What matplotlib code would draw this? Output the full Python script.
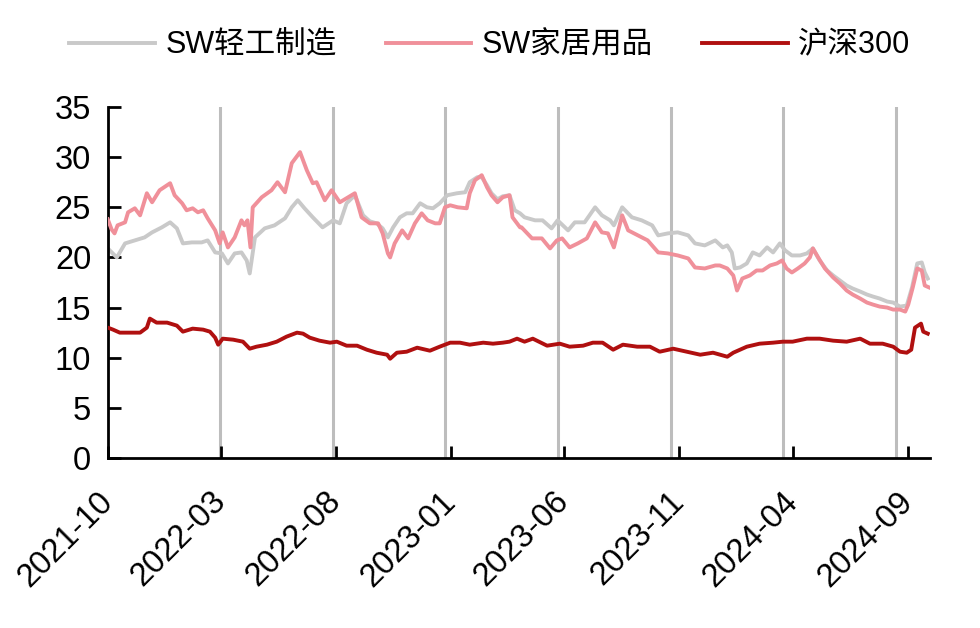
import numpy as np
import pandas as pd
import matplotlib
matplotlib.use('Agg')
import matplotlib.pyplot as plt
import matplotlib.transforms as mtransforms

# Series: day offset from 2021-10-01 and value
start = pd.Timestamp('2021-10-01')

qg_days = [0, 12, 23, 36, 49, 59, 72, 83, 92, 100, 112, 125, 133, 143, 152, 160, 169, 178,
           185, 189, 196, 209, 222, 236, 245, 253, 262, 273, 286, 300, 309, 318, 329, 340,
           349, 358, 366, 373, 380, 389, 398, 406, 416, 425, 433, 442, 452, 465, 476, 482,
           492, 498, 505, 511, 519, 526, 535, 542, 549, 555, 569, 579, 591, 599, 613, 622,
           635, 649, 658, 669, 674, 685, 698, 711, 725, 733, 746, 759, 773, 782, 795, 809,
           819, 825, 831, 835, 842, 851, 859, 868, 878, 886, 895, 902, 911, 922, 931, 939,
           948, 958, 966, 975, 984, 992, 1002, 1011, 1019, 1028, 1038, 1046, 1055, 1064,
           1071, 1078, 1084, 1088, 1092]
qg_vals = [20.9, 20.0, 21.4, 21.7, 22.0, 22.5, 23.0, 23.5, 22.9, 21.4, 21.5, 21.5, 21.7, 20.5,
           20.4, 19.4, 20.4, 20.5, 19.7, 18.4, 22.0, 22.9, 23.2, 23.9, 25.0, 25.7, 24.9, 24.0,
           23.0, 23.7, 23.4, 25.4, 26.2, 24.2, 23.6, 23.4, 22.9, 22.0, 23.0, 24.0, 24.4, 24.4,
           25.4, 25.0, 24.9, 25.4, 26.2, 26.4, 26.5, 27.5, 28.0, 28.0, 27.2, 26.4, 25.8, 26.1,
           26.2, 24.7, 24.4, 24.0, 23.7, 23.7, 22.9, 23.7, 22.7, 23.5, 23.5, 25.0, 24.2, 23.7,
           23.2, 25.0, 24.0, 23.7, 23.2, 22.2, 22.4, 22.5, 22.2, 21.4, 21.2, 21.7, 21.0, 21.2,
           20.5, 18.9, 19.0, 19.4, 20.5, 20.2, 21.0, 20.5, 21.4, 20.7, 20.2, 20.2, 20.4, 20.9,
           19.7, 18.7, 18.2, 17.7, 17.2, 16.9, 16.6, 16.3, 16.1, 15.9, 15.6, 15.5, 15.1, 15.2,
           17.0, 19.4, 19.5, 18.5, 17.9]

jj_days = [0, 5, 9, 13, 23, 27, 36, 43, 52, 59, 69, 83, 89, 99, 105, 113, 120, 127, 133, 143,
           149, 153, 160, 169, 178, 182, 186, 190, 193, 205, 218, 226, 236, 245, 256, 265, 273,
           278, 289, 298, 309, 318, 329, 338, 349, 360, 366, 373, 376, 382, 392, 400, 409, 418,
           426, 436, 442, 449, 456, 466, 478, 482, 489, 498, 505, 511, 519, 526, 535, 539, 549,
           551, 565, 578, 589, 598, 605, 615, 626, 638, 649, 658, 666, 674, 685, 693, 706, 719,
           733, 746, 759, 773, 782, 795, 809, 815, 825, 833, 838, 845, 855, 864, 872, 882, 891,
           898, 904, 911, 919, 928, 935, 939, 946, 955, 966, 975, 984, 992, 1002, 1011, 1019,
           1028, 1038, 1046, 1055, 1062, 1066, 1072, 1078, 1084, 1088, 1094]
jj_vals = [23.8, 22.8, 22.4, 23.2, 23.5, 24.5, 24.9, 24.2, 26.4, 25.5, 26.7, 27.4, 26.2, 25.4,
           24.7, 24.9, 24.5, 24.7, 23.9, 22.7, 21.4, 22.5, 21.0, 22.0, 23.7, 23.2, 23.7, 21.0,
           25.0, 26.0, 26.7, 27.5, 26.5, 29.4, 30.5, 28.7, 27.4, 27.5, 25.7, 26.7, 25.5, 25.9,
           26.4, 24.0, 23.4, 23.4, 22.4, 20.4, 20.0, 21.4, 22.7, 21.9, 23.4, 24.4, 23.7, 23.4,
           23.4, 25.0, 25.2, 25.0, 24.9, 26.4, 27.7, 28.2, 27.0, 26.2, 25.5, 26.0, 26.2, 24.0,
           23.0, 23.0, 21.9, 21.9, 20.9, 21.7, 21.9, 21.0, 21.4, 21.9, 23.5, 22.5, 22.4, 21.0,
           24.2, 22.7, 22.2, 21.7, 20.5, 20.4, 20.2, 19.9, 19.0, 18.9, 19.2, 19.2, 18.9, 18.2,
           16.7, 17.9, 18.2, 18.7, 18.7, 19.2, 19.4, 19.7, 18.9, 18.5, 18.9, 19.4, 20.0, 20.9,
           20.0, 18.9, 18.0, 17.4, 16.7, 16.3, 15.9, 15.5, 15.3, 15.1, 15.0, 14.8, 14.8, 14.6,
           15.3, 17.0, 18.9, 18.7, 17.2, 17.0]

hs_days = [0, 7, 16, 29, 43, 52, 56, 65, 79, 92, 100, 113, 127, 136, 143, 147, 153, 167, 180,
           189, 198, 212, 225, 238, 252, 260, 269, 282, 296, 305, 318, 332, 345, 358, 372, 376,
           385, 398, 412, 429, 442, 456, 469, 482, 500, 513, 526, 535, 545, 555, 566, 585, 602,
           615, 633, 646, 659, 673, 686, 705, 722, 735, 753, 771, 789, 806, 825, 833, 851, 868,
           886, 899, 912, 931, 948, 966, 984, 1002, 1015, 1032, 1046, 1055, 1064, 1070, 1075,
           1083, 1086, 1092]
hs_vals = [13.0, 12.8, 12.5, 12.5, 12.5, 13.0, 13.9, 13.5, 13.5, 13.2, 12.6, 12.9, 12.8, 12.6,
           12.0, 11.3, 11.9, 11.8, 11.6, 10.9, 11.1, 11.3, 11.6, 12.1, 12.5, 12.4, 12.0, 11.7,
           11.5, 11.6, 11.2, 11.2, 10.8, 10.5, 10.3, 9.9, 10.5, 10.6, 11.0, 10.7, 11.1, 11.5,
           11.5, 11.3, 11.5, 11.4, 11.5, 11.6, 11.9, 11.6, 11.9, 11.2, 11.4, 11.1, 11.2, 11.5,
           11.5, 10.8, 11.3, 11.1, 11.1, 10.6, 10.9, 10.6, 10.3, 10.5, 10.1, 10.5, 11.1, 11.4,
           11.5, 11.6, 11.6, 11.9, 11.9, 11.7, 11.6, 11.9, 11.4, 11.4, 11.1, 10.6, 10.5, 10.8,
           13.0, 13.4, 12.6, 12.4]

labels = ['SW轻工制造', 'SW家居用品', '沪深300']
colors = ['#c9c9c9', '#f0909a', '#b01010']

tick_dates = ['2021-10-01', '2022-03-01', '2022-08-01', '2023-01-01', '2023-06-01',
              '2023-11-01', '2024-04-01', '2024-09-01']
tick_labels = ['2021-10', '2022-03', '2022-08', '2023-01', '2023-06', '2023-11', '2024-04', '2024-09']
vline_dates = ['2022-02-27', '2022-07-28', '2022-12-24', '2023-05-23', '2023-10-21',
               '2024-03-18', '2024-08-16']


def to_dates(days):
	return start + pd.to_timedelta(days, unit='D')


plt.rcParams['font.family'] = ['Liberation Sans', 'Noto Sans CJK SC', 'DejaVu Sans']

fig = plt.figure(figsize=(9.8, 6.28), dpi=100)
ax = fig.add_axes([0.110, 0.2707, 0.839, 0.5589])

for d in vline_dates:
	ax.axvline(pd.Timestamp(d), color='#bdbdbd', lw=2.2, zorder=1)

ax.plot(to_dates(qg_days), qg_vals, color=colors[0], lw=2.8, label=labels[0], zorder=2)
ax.plot(to_dates(jj_days), jj_vals, color=colors[1], lw=2.8, label=labels[1], zorder=3)
ax.plot(to_dates(hs_days), hs_vals, color=colors[2], lw=2.8, label=labels[2], zorder=4)

ax.set_xlim(start, start + pd.Timedelta(days=1095))
ax.set_ylim(0, 35)
ax.set_yticks(np.arange(0, 36, 5))
ax.set_xticks([pd.Timestamp(d) for d in tick_dates])
ax.set_xticklabels(tick_labels, rotation=45, ha='right')

for s in ['top', 'right']:
	ax.spines[s].set_visible(False)
for s in ['left', 'bottom']:
	ax.spines[s].set_linewidth(2)
ax.tick_params(axis='both', direction='in', length=9, width=2, labelsize=23.5)
ax.tick_params(axis='y', pad=12)
ax.tick_params(axis='x', pad=20)

offset = mtransforms.ScaledTranslation(0.11, 0, fig.dpi_scale_trans)
for lab in ax.get_xticklabels():
	lab.set_transform(lab.get_transform() + offset)

fig.legend(loc='center', bbox_to_anchor=(0.5, 0.928), ncol=3, frameon=False,
		   fontsize=22, handlelength=2.8, handletextpad=0.35, columnspacing=1.6)

fig.savefig('out.png', dpi=100)
